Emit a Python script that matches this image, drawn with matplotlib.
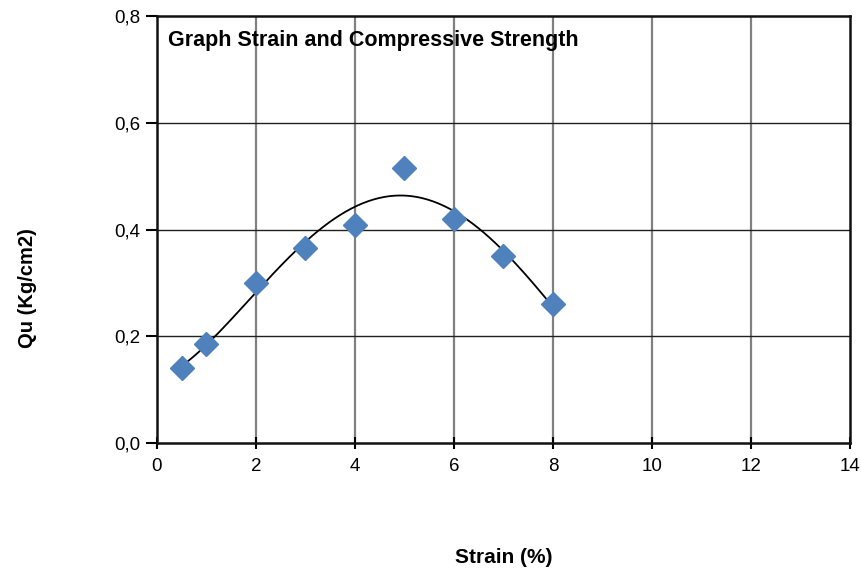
import matplotlib
matplotlib.use('Agg')
import matplotlib.pyplot as plt
import numpy as np

strain = np.array([0.5, 1, 2, 3, 4, 5, 6, 7, 8])
qu = np.array([0.14, 0.185, 0.30, 0.365, 0.408, 0.515, 0.42, 0.35, 0.26])

x_ticks = [0, 2, 4, 6, 8, 10, 12, 14]
y_ticks = [0.0, 0.2, 0.4, 0.6, 0.8]

plt.rcParams['font.family'] = ['Liberation Sans', 'DejaVu Sans']

fig = plt.figure(figsize=(8.62, 5.72), dpi=100)
ax = fig.add_axes([0.182, 0.2255, 0.804, 0.7465])

# lineas de la grilla
for xv in x_ticks[1:-1]:
    ax.axvline(xv, color='#808080', linewidth=1.6, zorder=1)
for yv in y_ticks[1:-1]:
    ax.axhline(yv, color='#202020', linewidth=1.0, zorder=1)

# linea de tendencia (polinomio)
coef = np.polyfit(strain, qu, 4)
xs = np.linspace(strain.min(), strain.max(), 200)
ax.plot(xs, np.polyval(coef, xs), color='black', linewidth=1.3, zorder=2)

ax.plot(strain, qu, linestyle='none', marker='D', markersize=12,
        color='#4F81BD', markeredgecolor='#4F81BD', zorder=3)

ax.set_xlim(0, 14)
ax.set_ylim(0, 0.8)
ax.set_xticks(x_ticks)
ax.set_yticks(y_ticks)
ax.set_yticklabels([f"{v:.1f}".replace('.', ',') for v in y_ticks])
ax.tick_params(axis='x', direction='inout', length=8, width=1.5, labelsize=13.5, pad=7)
ax.tick_params(axis='y', direction='out', length=8, width=1.5, labelsize=13.5, pad=4)
for s in ax.spines.values():
    s.set_linewidth(1.8)
    s.set_color('#111111')

ax.text(0.016, 0.968, 'Graph Strain and Compressive Strength', transform=ax.transAxes,
        fontsize=15.5, fontweight='bold', va='top', ha='left')

ax.set_xlabel('Strain (%)', fontsize=15, fontweight='bold')
ax.set_ylabel('Qu (Kg/cm2)', fontsize=14.5, fontweight='bold')
ax.xaxis.set_label_coords(0.5, -0.269)
ax.yaxis.set_label_coords(-0.186, 0.363)
ax.xaxis.label.set_va('center')
ax.yaxis.label.set_va('center')

fig.savefig('out.png', dpi=100)
